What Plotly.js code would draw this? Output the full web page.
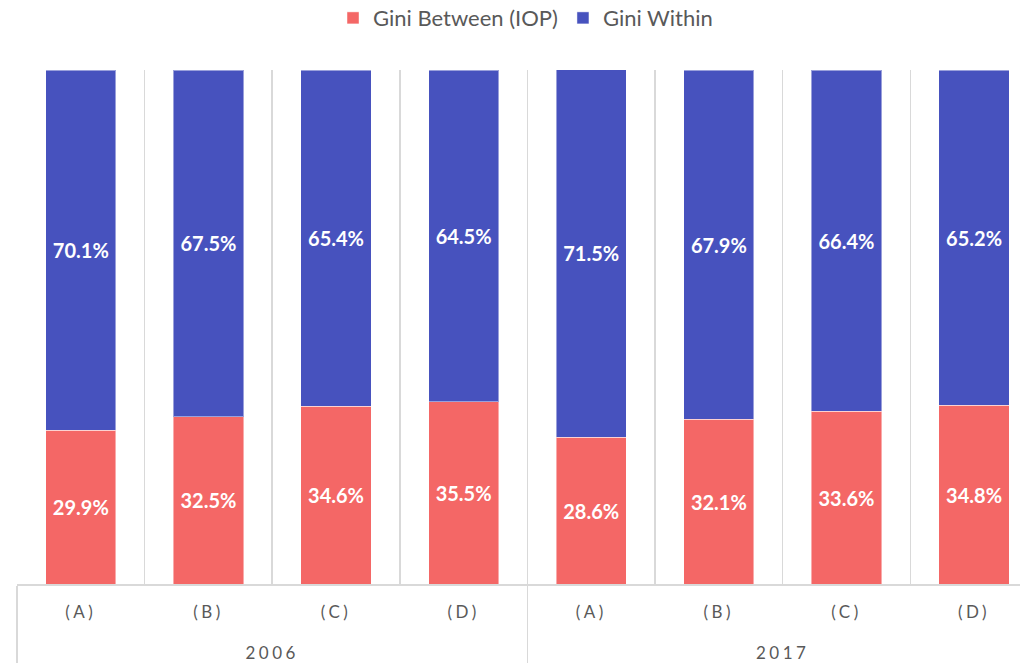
<!DOCTYPE html>
<html>
<head>
<meta charset="utf-8">
<script src="https://cdn.plot.ly/plotly-3.0.1.min.js"></script>
<style>
  html, body { margin: 0; padding: 0; background: #fff; overflow: hidden; }
  #chart { width: 1020px; height: 665px; }
  .xaxislayer-above text { letter-spacing: 3.5px; }
</style>
</head>
<body>
<div id="chart"></div>
<script>
const years = ['2006', '2006', '2006', '2006', '2017', '2017', '2017', '2017'];
const groups = ['(A)', '(B)', '(C)', '(D)', '(A)', '(B)', '(C)', '(D)'];
const giniBetween = [29.9, 32.5, 34.6, 35.5, 28.6, 32.1, 33.6, 34.8];
const giniWithin = [70.1, 67.5, 65.4, 64.5, 71.5, 67.9, 66.4, 65.2];
const seriesNames = ['Gini Between (IOP)', 'Gini Within'];
const seriesColors = ['#F46766', '#4752BE'];

const labelFont = { family: 'Lato, "Open Sans", sans-serif', size: 20, color: '#ffffff', weight: 'bold' };
const small = t => '<span style="font-size:17px">' + t + '</span>';

function barTrace(vals, i) {
  return {
    type: 'bar',
    name: seriesNames[i],
    x: [years.map(small), groups.map(g => small(g) + '<br>\u00a0')],
    y: vals,
    marker: { color: seriesColors[i], line: { color: 'rgba(255,255,255,0.45)', width: 1 } },
    texttemplate: '<b>%{y:.1f}%</b>',
    textposition: 'inside',
    insidetextanchor: 'middle',
    textangle: 0,
    textfont: labelFont,
    hoverinfo: 'skip'
  };
}

const data = [barTrace(giniBetween, 0), barTrace(giniWithin, 1)];

const layout = {
  width: 1020,
  height: 665,
  barmode: 'stack',
  bargap: 0.45,
  margin: { l: 17, r: 0, t: 70, b: 81, autoexpand: false },
  paper_bgcolor: '#ffffff',
  plot_bgcolor: '#ffffff',
  showlegend: true,
  legend: {
    orientation: 'h',
    x: 0.507, xanchor: 'center',
    y: 1.101, yanchor: 'middle',
    font: { family: 'Lato, "Open Sans", sans-serif', size: 22, color: '#595959' },
    traceorder: 'normal',
    itemclick: false
  },
  xaxis: {
    type: 'multicategory',
    range: [-0.5, 7.36],
    tickson: 'boundaries',
    showgrid: true,
    gridcolor: '#d9d9d9',
    gridwidth: 1.5,
    showline: true,
    linecolor: '#d9d9d9',
    linewidth: 1.5,
    ticks: '',
    ticklabelstandoff: 8,
    showdividers: true,
    dividercolor: '#d9d9d9',
    dividerwidth: 1.5,
    tickfont: { family: 'Lato, "Open Sans", sans-serif', size: 20, color: '#595959' },
    fixedrange: true
  },
  yaxis: {
    range: [0, 100],
    visible: false,
    showgrid: false,
    zeroline: false,
    fixedrange: true
  }
};

Plotly.newPlot('chart', data, layout, { displayModeBar: false, staticPlot: true });
</script>
</body>
</html>
